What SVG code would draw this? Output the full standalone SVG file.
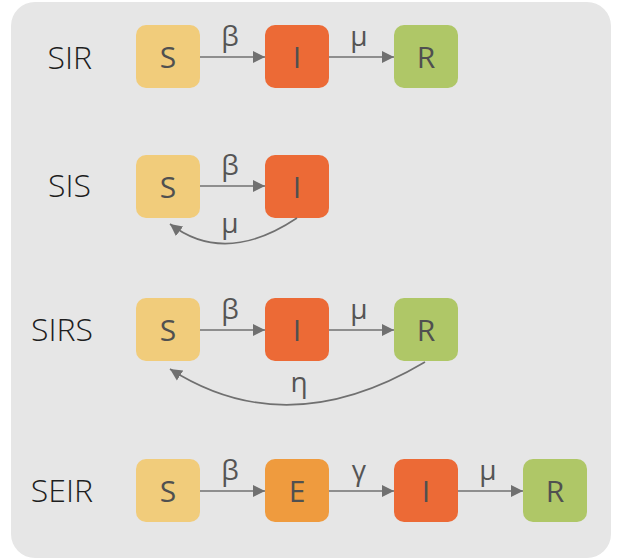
<svg xmlns="http://www.w3.org/2000/svg" width="623" height="559" viewBox="0 0 623 559">
<style>
.row{font-family:"Open Sans","Liberation Sans",sans-serif;font-weight:300;font-size:32px;fill:#1e1e1e;text-anchor:end}
.nl{font-family:"Open Sans","Liberation Sans",sans-serif;font-size:30px;fill:#505050;text-anchor:middle}
.gl{font-family:"Open Sans","Liberation Sans",sans-serif;font-size:28px;fill:#555;text-anchor:middle}
.S{fill:#F1CC7B}.I{fill:#EC6A36}.R{fill:#AFC767}.E{fill:#EF9B3E}
.ar{stroke:#707070;stroke-width:1.6;fill:none;marker-end:url(#ah)}
</style>
<defs>
<marker id="ah" viewBox="0 0 10 10" markerUnits="userSpaceOnUse" markerWidth="12" markerHeight="13" refX="10" refY="5" orient="auto">
<path d="M0,0 L10,5 L0,10 z" fill="#707070"/>
</marker>
</defs>
<rect x="11" y="2" width="600" height="556" rx="24" fill="#E6E6E6"/>
<g id="labels">
<text class="row" x="92" y="69">SIR</text>
<text class="row" x="91" y="197">SIS</text>
<text class="row" x="93" y="341">SIRS</text>
<text class="row" x="93" y="502">SEIR</text>
</g>
<g id="sir-S"><rect class="S" x="136" y="25" width="64" height="63" rx="10"/><text class="nl" x="168" y="68">S</text></g>
<g id="sir-I"><rect class="I" x="265" y="25" width="64" height="63" rx="10"/><text class="nl" x="297" y="68">I</text></g>
<g id="sir-R"><rect class="R" x="394" y="25" width="64" height="63" rx="10"/><text class="nl" x="426" y="68">R</text></g>
<g id="sis-S"><rect class="S" x="136" y="155" width="64" height="63" rx="10"/><text class="nl" x="168" y="198">S</text></g>
<g id="sis-I"><rect class="I" x="265" y="155" width="64" height="63" rx="10"/><text class="nl" x="297" y="198">I</text></g>
<g id="sirs-S"><rect class="S" x="136" y="298" width="64" height="63" rx="10"/><text class="nl" x="168" y="341">S</text></g>
<g id="sirs-I"><rect class="I" x="265" y="298" width="64" height="63" rx="10"/><text class="nl" x="297" y="341">I</text></g>
<g id="sirs-R"><rect class="R" x="394" y="298" width="64" height="63" rx="10"/><text class="nl" x="426" y="341">R</text></g>
<g id="seir-S"><rect class="S" x="136" y="459" width="64" height="63" rx="10"/><text class="nl" x="168" y="502">S</text></g>
<g id="seir-E"><rect class="E" x="265" y="459" width="64" height="63" rx="10"/><text class="nl" x="297" y="502">E</text></g>
<g id="seir-I"><rect class="I" x="394" y="459" width="64" height="63" rx="10"/><text class="nl" x="426" y="502">I</text></g>
<g id="seir-R"><rect class="R" x="523" y="459" width="64" height="63" rx="10"/><text class="nl" x="555" y="502">R</text></g>
<g id="connectors">
<path class="ar" d="M200,57 L265,57"/>
<path class="ar" d="M329,57 L394,57"/>
<path class="ar" d="M200,186 L265,186"/>
<path class="ar" d="M297,218 Q225,266 170,224"/>
<path class="ar" d="M200,330 L265,330"/>
<path class="ar" d="M329,330 L394,330"/>
<path class="ar" d="M425,362 Q287,444 170,369"/>
<path class="ar" d="M200,491 L265,491"/>
<path class="ar" d="M329,491 L394,491"/>
<path class="ar" d="M458,491 L523,491"/>
<text class="gl" x="230" y="46">β</text>
<text class="gl" x="359" y="46">μ</text>
<text class="gl" x="230" y="175">β</text>
<text class="gl" x="230" y="233">μ</text>
<text class="gl" x="230" y="319">β</text>
<text class="gl" x="359" y="319">μ</text>
<text class="gl" x="299" y="392">η</text>
<text class="gl" x="230" y="480">β</text>
<text class="gl" x="359" y="480">γ</text>
<text class="gl" x="488" y="480">μ</text>
</g>
</svg>
